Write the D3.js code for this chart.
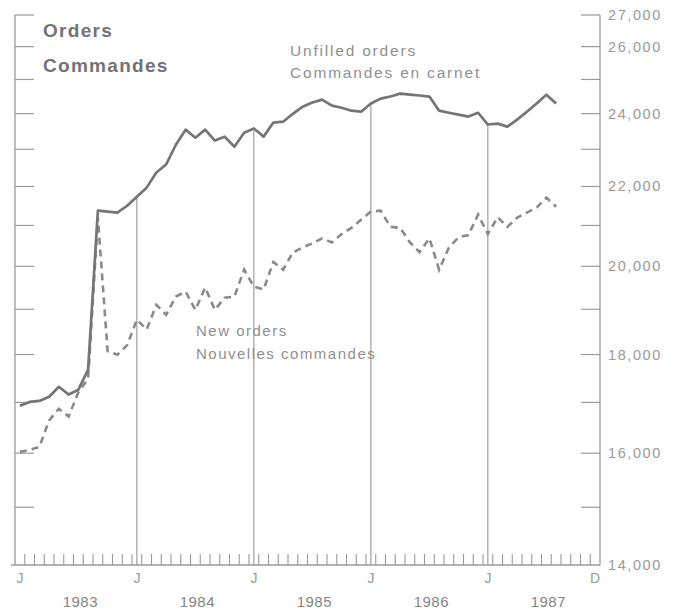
<!DOCTYPE html>
<html>
<head>
<meta charset="utf-8">
<script src="https://cdn.jsdelivr.net/npm/d3@7"></script>
<style>
  html, body { margin: 0; padding: 0; background: #fff; }
  svg { display: block; }
  text { font-family: "Liberation Sans", Arial, sans-serif; }
</style>
</head>
<body>
<svg id="chart" width="684" height="611"></svg>
<script>
// Monthly index: 0 = January 1983
const monthIndex = d3.range(0, 56);
const unfilledOrders = [
  16930, 17010, 17030, 17115, 17320, 17160, 17260, 17680, 21375, 21350, 21325, 21500,
  21735, 21970, 22370, 22585, 23125, 23545, 23320, 23545, 23240, 23350, 23070, 23460,
  23580, 23350, 23745, 23770, 23995, 24200, 24320, 24405, 24230, 24170, 24085, 24055,
  24290, 24435, 24495, 24580, 24550, 24525, 24495, 24085, 24025, 23970, 23915, 24025,
  23690, 23715, 23630, 23830, 24055, 24290, 24550, 24290
];
const newOrders = [
  16025, 16065, 16120, 16640, 16870, 16715, 17205, 17490, 21195, 18075, 17995, 18205,
  18765, 18545, 19100, 18875, 19290, 19405, 18985, 19500, 18985, 19265, 19290, 19920,
  19520, 19455, 20105, 19920, 20335, 20455, 20555, 20680, 20580, 20785, 20940, 21145,
  21350, 21375, 20965, 20940, 20580, 20340, 20680, 19920, 20455, 20705, 20760, 21275,
  20785, 21210, 20965, 21195, 21325, 21450, 21710, 21475
];
const yLabelTicks = [14000, 16000, 18000, 20000, 22000, 24000, 26000, 27000];
const yMinorTicks = [15000, 17000, 19000, 21000, 23000, 25000];
const januaryIndex = [0, 12, 24, 36, 48];
const monthLetters = ["J", "J", "J", "J", "J", "D"];
const monthLetterIndex = [0, 12, 24, 36, 48, 59];
const yearLabels = ["1983", "1984", "1985", "1986", "1987"];
const titleLines = ["Orders", "Commandes"];
const unfilledLabel = ["Unfilled orders", "Commandes en carnet"];
const newLabel = ["New orders", "Nouvelles commandes"];

const svg = d3.select("#chart");
const x = d3.scaleLinear().domain([-0.5, 59.5]).range([15, 600]);
const y = d3.scaleLog().domain([14000, 27000]).range([565, 15]);

const axisColor = "#9a9a9a";
const gridColor = "#8c8c8c";

const g = svg.append("g");
g.append("line").attr("x1", x(-0.5)).attr("x2", x(-0.5)).attr("y1", y(27000)).attr("y2", y(14000))
  .attr("stroke", axisColor).attr("stroke-width", 1.3);
g.append("line").attr("x1", x(59.5)).attr("x2", x(59.5)).attr("y1", y(27000)).attr("y2", y(14000))
  .attr("stroke", axisColor).attr("stroke-width", 1.3);
g.append("line").attr("x1", x(-0.5) - 4).attr("x2", x(59.5)).attr("y1", y(14000)).attr("y2", y(14000))
  .attr("stroke", axisColor).attr("stroke-width", 1.6);

const allYTicks = yLabelTicks.concat(yMinorTicks).filter(v => v !== 14000);
g.selectAll(".ltick").data(allYTicks).join("line")
  .attr("x1", x(-0.5)).attr("x2", x(-0.5) + 19)
  .attr("y1", d => y(d)).attr("y2", d => y(d))
  .attr("stroke", axisColor).attr("stroke-width", 1.2);
g.selectAll(".rtick").data(allYTicks).join("line")
  .attr("x1", x(59.5) - 19).attr("x2", x(59.5))
  .attr("y1", d => y(d)).attr("y2", d => y(d))
  .attr("stroke", axisColor).attr("stroke-width", 1.2);

g.selectAll(".rlab").data(yLabelTicks).join("text")
  .attr("x", x(59.5) + 8).attr("y", d => y(d) + 5)
  .attr("font-size", 14.5).attr("letter-spacing", 1.6).attr("fill", "#9a9a9a")
  .text(d => d3.format(",")(d));

const monthBounds = d3.range(0.5, 59.5, 1);
g.selectAll(".mtick").data(monthBounds).join("line")
  .attr("x1", d => x(d)).attr("x2", d => x(d))
  .attr("y1", y(14000)).attr("y2", y(14000) - 11)
  .attr("stroke", axisColor).attr("stroke-width", 1.1);

g.selectAll(".mlab").data(monthLetterIndex).join("text")
  .attr("x", d => x(d)).attr("y", 583)
  .attr("text-anchor", "middle").attr("font-size", 14).attr("fill", "#9a9a9a")
  .text((d, i) => monthLetters[i]);
g.selectAll(".ylab").data(yearLabels).join("text")
  .attr("x", (d, i) => x(januaryIndex[i] + 6.2)).attr("y", 607)
  .attr("text-anchor", "middle").attr("font-size", 15).attr("letter-spacing", 0.5).attr("fill", "#858585")
  .text(d => d);

g.selectAll(".grid").data(januaryIndex.slice(1)).join("line")
  .attr("x1", d => x(d)).attr("x2", d => x(d))
  .attr("y1", d => y(unfilledOrders[d])).attr("y2", y(14000))
  .attr("stroke", gridColor).attr("stroke-width", 1);

const lineGen = d3.line().x((d, i) => x(monthIndex[i])).y(d => y(d));
svg.append("path").datum(newOrders)
  .attr("d", lineGen).attr("fill", "none")
  .attr("stroke", "#8a8a8a").attr("stroke-width", 2.6)
  .attr("stroke-dasharray", "7,5");
svg.append("path").datum(unfilledOrders)
  .attr("d", lineGen).attr("fill", "none")
  .attr("stroke", "#757575").attr("stroke-width", 2.7)
  .attr("stroke-linejoin", "round");

svg.selectAll(".title").data(titleLines).join("text")
  .attr("x", 43).attr("y", (d, i) => 37 + i * 35)
  .attr("font-size", 19).attr("font-weight", "bold").attr("letter-spacing", 1.3).attr("fill", "#737373")
  .text(d => d);

svg.selectAll(".ulab").data(unfilledLabel).join("text")
  .attr("x", 290).attr("y", (d, i) => 56 + i * 22)
  .attr("font-size", 15.5).attr("fill", "#8f8f8f").attr("letter-spacing", 1.8)
  .text(d => d);
svg.selectAll(".nlab").data(newLabel).join("text")
  .attr("x", 196).attr("y", (d, i) => 336 + i * 23)
  .attr("font-size", 15).attr("fill", "#8f8f8f").attr("letter-spacing", 1.5)
  .text(d => d);
</script>
</body>
</html>
